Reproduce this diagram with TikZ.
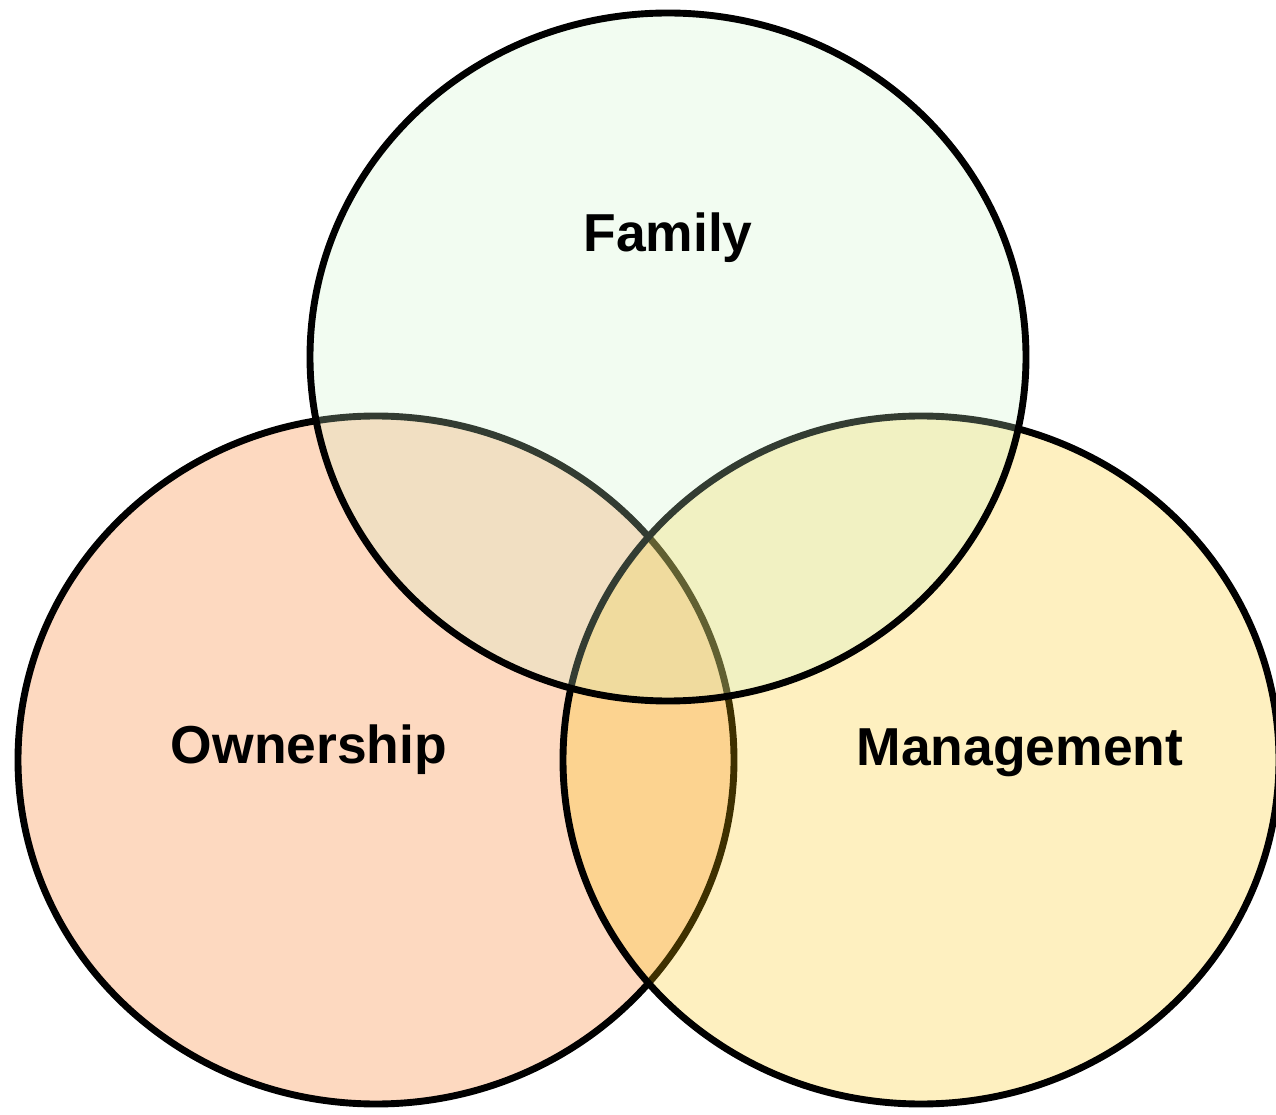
\documentclass[tikz,border=0pt]{standalone}
\usepackage{fontspec}
\setmainfont{Liberation Sans}
\usepackage{tikz}
\usepackage{xcolor}
\usetikzlibrary{positioning}

\definecolor{ownfill}{RGB}{247,103,3}
\definecolor{mgmtfill}{RGB}{251,195,3}
\definecolor{famfill}{RGB}{204,243,200}

\begin{document}
\begin{tikzpicture}[x=0.025cm, y=0.025cm,
    venn/.style={draw=black, line width=4.9pt, fill opacity=0.25},
    vennlabel/.style={font=\bfseries\fontsize{38}{40}\selectfont, text=black}]

  \useasboundingbox (0,0) rectangle (1276,1114);

  \foreach \cx/\cy/\col in {376/354/ownfill, 921/354/mgmtfill, 668/757/famfill} {
    \filldraw[venn, fill=\col] (\cx,\cy) ellipse (358 and 344);
  }

  \node[vennlabel] (family) at (668,876) {Family};
  \node[vennlabel] (owner) at (309,364) {Ownership};
  \node[vennlabel] (mgmt) at (1020,361) {Management};

\end{tikzpicture}
\end{document}
